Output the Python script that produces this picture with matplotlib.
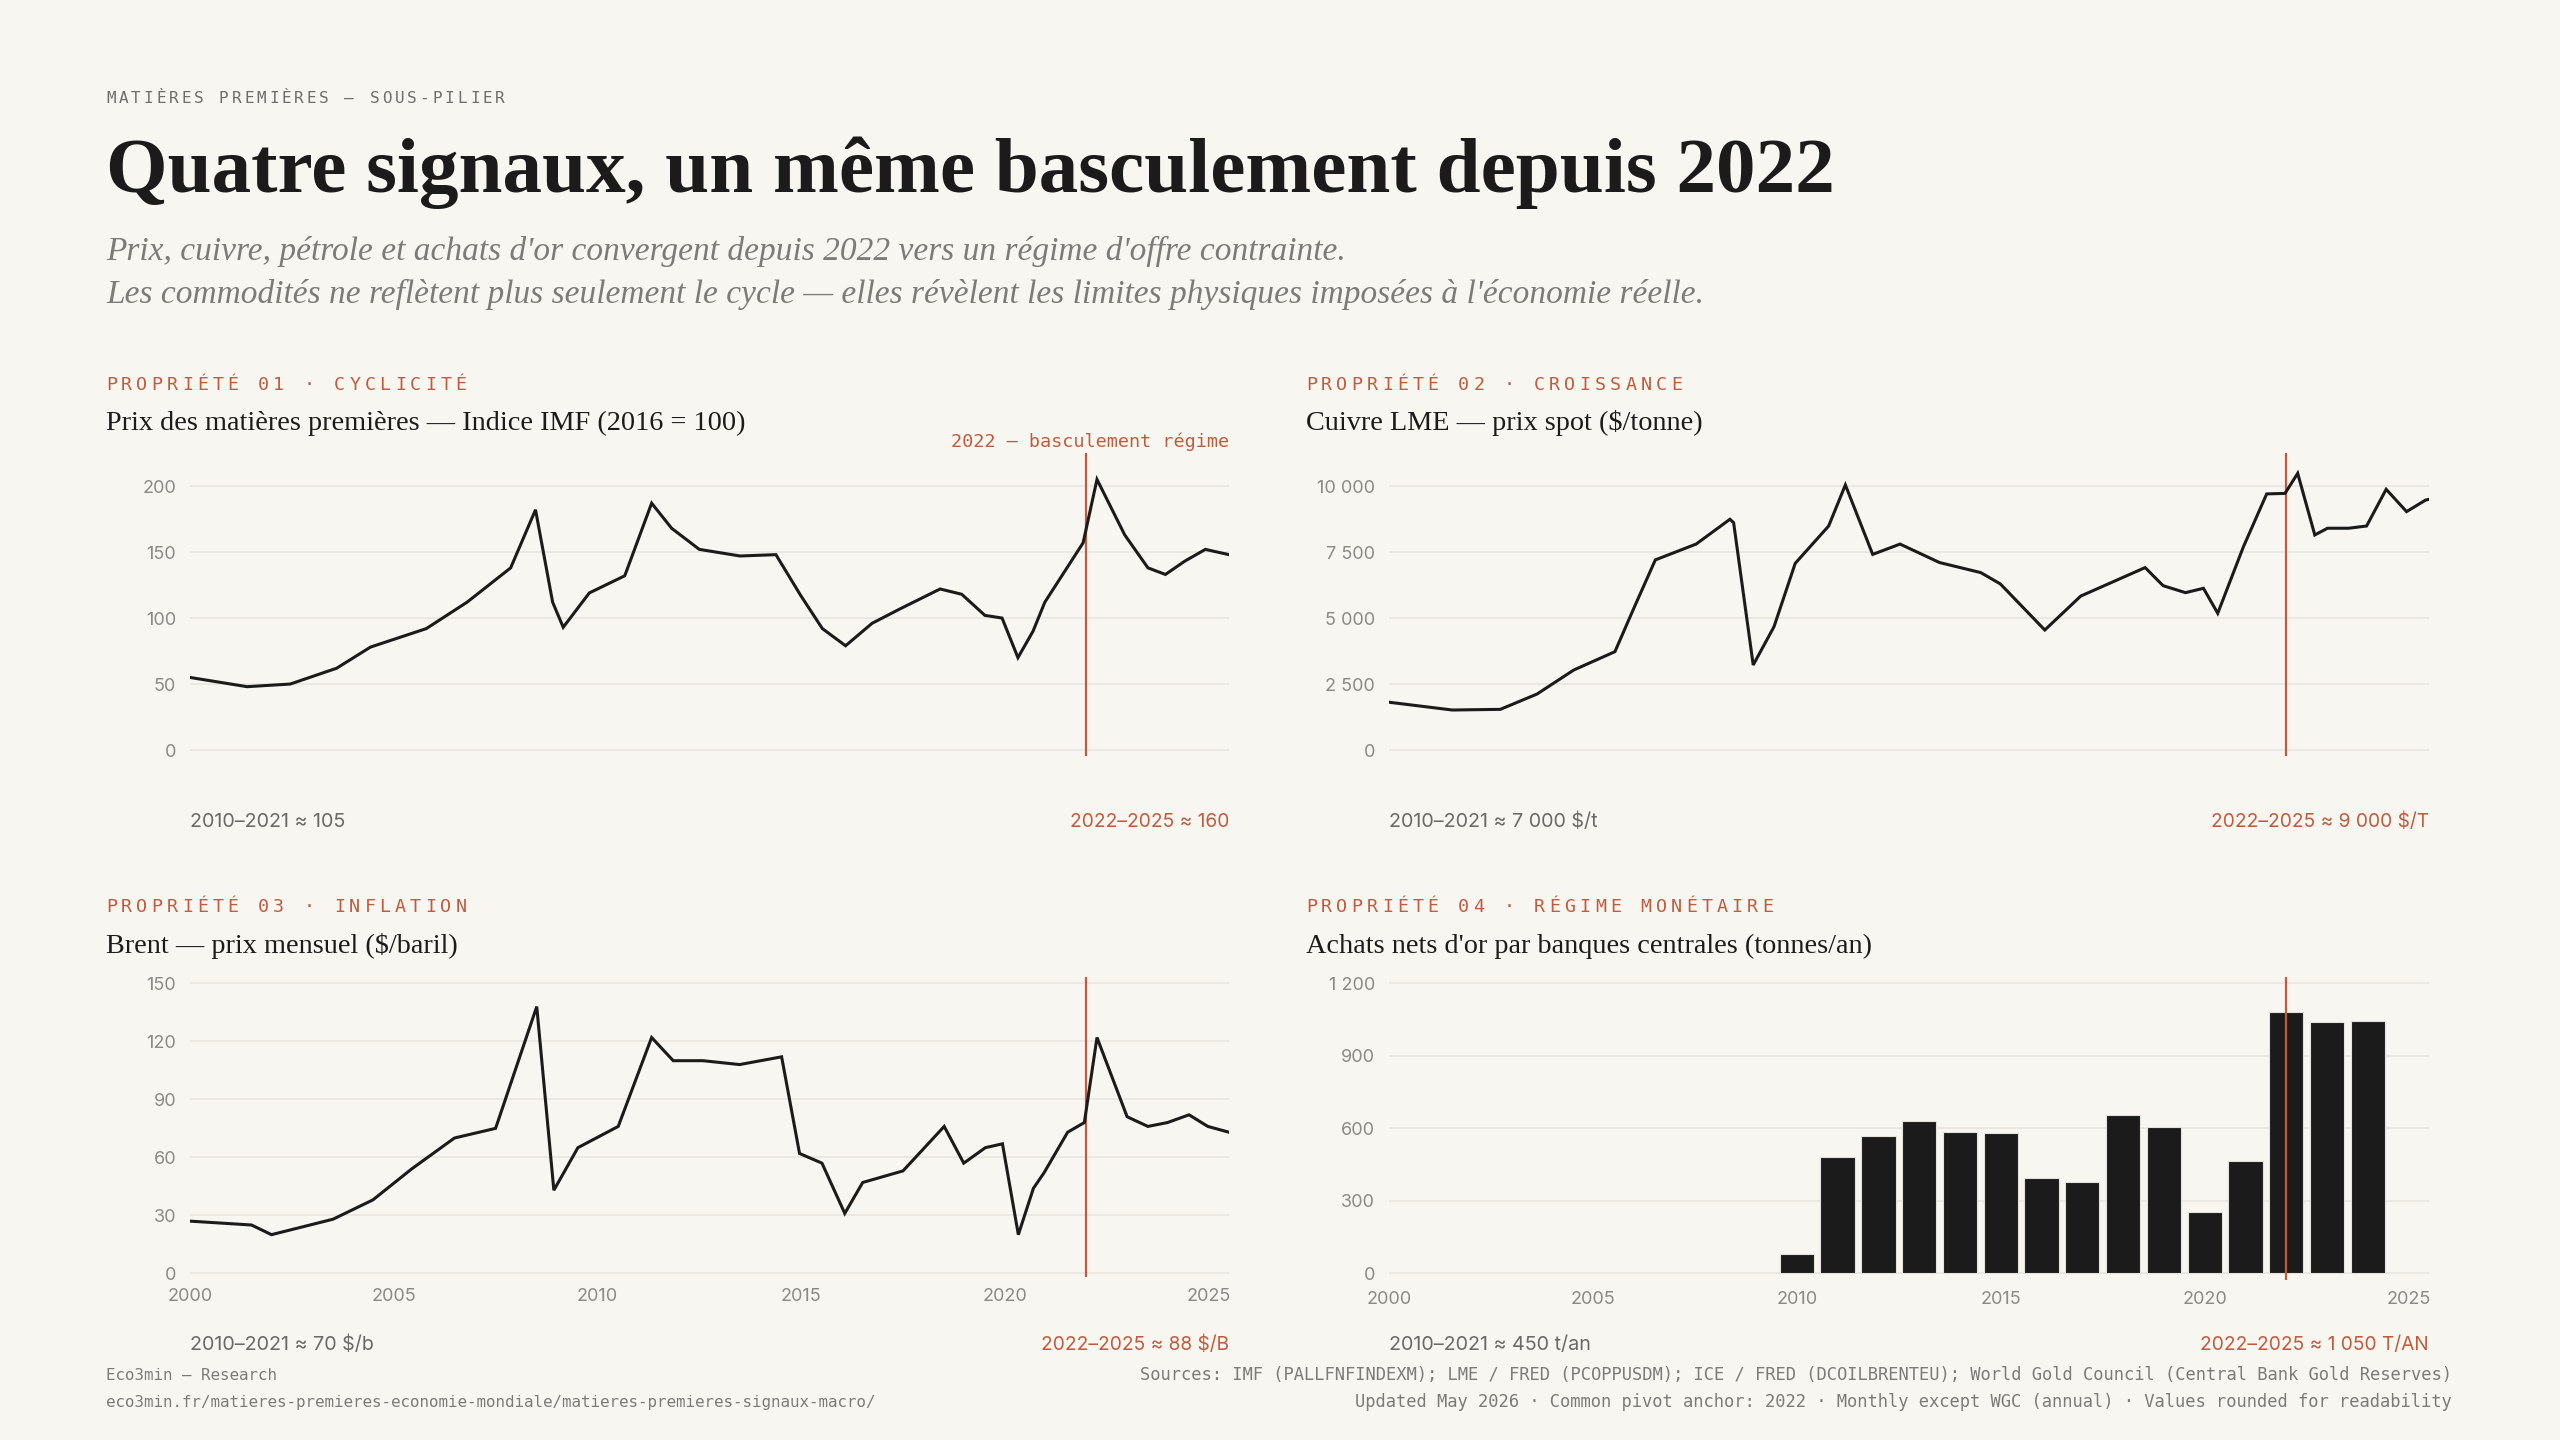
import matplotlib
matplotlib.use("Agg")
import matplotlib.pyplot as plt
from matplotlib.ticker import FixedLocator, FuncFormatter

# ---- data ----
imf_t = [2000.0, 2001.4, 2002.46, 2003.6, 2004.43, 2005.8, 2006.8, 2007.87, 2008.48, 2008.9,
         2009.16, 2009.8, 2010.67, 2011.33, 2011.82, 2012.5, 2013.5, 2014.38, 2014.99, 2015.52,
         2016.09, 2016.74, 2017.43, 2018.41, 2018.94, 2019.51, 2019.93, 2020.32, 2020.69, 2020.98,
         2021.92, 2022.26, 2022.94, 2023.51, 2023.94, 2024.41, 2024.92, 2025.5]
imf_v = [55, 48, 50, 62, 78, 92, 112, 138, 182, 112,
         93, 119, 132, 187, 168, 152, 147, 148, 117, 92,
         79, 96, 107, 122, 118, 102, 100, 70, 90, 112,
         157, 205, 163, 138, 133, 143, 152, 148]

cu_t = [2000.0, 2001.55, 2002.73, 2003.63, 2004.53, 2005.54, 2006.02, 2006.53, 2007.53, 2008.36,
        2008.45, 2008.93, 2009.44, 2009.96, 2010.78, 2011.19, 2011.86, 2012.53, 2013.5, 2014.51,
        2014.99, 2016.08, 2016.96, 2018.54, 2018.98, 2019.53, 2019.97, 2020.32, 2020.95, 2021.52,
        2021.97, 2022.28, 2022.7, 2023.01, 2023.53, 2023.97, 2024.45, 2024.95, 2025.42, 2025.5]
cu_v = [1810, 1515, 1540, 2120, 3030, 3725, 5430, 7200, 7800, 8740,
        8610, 3220, 4670, 7070, 8485, 10040, 7410, 7800, 7100, 6720,
        6290, 4545, 5830, 6910, 6225, 5960, 6125, 5180, 7700, 9700,
        9720, 10480, 8145, 8400, 8400, 8485, 9875, 9030, 9470, 9495]

brent_t = [2000.0, 2001.51, 2002.0, 2003.51, 2004.49, 2005.44, 2006.49, 2007.5, 2008.51, 2008.93,
           2009.52, 2010.51, 2011.33, 2011.86, 2012.59, 2013.49, 2014.52, 2014.96, 2015.51, 2016.07,
           2016.51, 2017.5, 2018.51, 2018.99, 2019.52, 2019.94, 2020.33, 2020.7, 2020.96, 2021.54,
           2021.95, 2022.26, 2023.0, 2023.51, 2023.99, 2024.52, 2024.98, 2025.5]
brent_v = [27, 25, 20, 28, 38, 54, 70, 75, 138, 43,
           65, 76, 122, 110, 110, 108, 112, 62, 57, 31,
           47, 53, 76, 57, 65, 67, 20, 44, 52, 73,
           78, 122, 81, 76, 78, 82, 76, 73]

gold_years = list(range(2010, 2025))
gold_tonnes = [80, 480, 570, 630, 583, 581, 396, 379, 657, 606, 255, 463, 1083, 1039, 1046]

pivot_year = 2022
x_ticks = [2000, 2005, 2010, 2015, 2020, 2025]

imf_ticks = [0, 50, 100, 150, 200]
cu_ticks = [0, 2500, 5000, 7500, 10000]
brent_ticks = [0, 30, 60, 90, 120, 150]
gold_ticks = [0, 300, 600, 900, 1200]

panel_kickers = ["PROPRIÉTÉ 01 · CYCLICITÉ", "PROPRIÉTÉ 02 · CROISSANCE",
                 "PROPRIÉTÉ 03 · INFLATION", "PROPRIÉTÉ 04 · RÉGIME MONÉTAIRE"]
panel_titles = ["Prix des matières premières — Indice IMF (2016 = 100)",
                "Cuivre LME — prix spot ($/tonne)",
                "Brent — prix mensuel ($/baril)",
                "Achats nets d'or par banques centrales (tonnes/an)"]
notes_before = ["2010–2021 ≈ 105", "2010–2021 ≈ 7 000 $/t", "2010–2021 ≈ 70 $/b", "2010–2021 ≈ 450 t/an"]
notes_after = ["2022–2025 ≈ 160", "2022–2025 ≈ 9 000 $/T", "2022–2025 ≈ 88 $/B", "2022–2025 ≈ 1 050 T/AN"]

# ---- style ----
BG = "#F8F6F0"
INK = "#1B1B1B"
ACCENT = "#C25B3D"
GREY = "#7C7B78"
TICK = "#8C8A86"
GRID = "#EAE7E0"
SERIF = "Liberation Serif"
MONO = "DejaVu Sans Mono"
SANS = "Inter"

W, H = 2560, 1440
fig = plt.figure(figsize=(W / 100, H / 100), dpi=100, facecolor=BG)


def fx(x):
    return x / W


def fy(y):
    return 1 - y / H


def spaced(x, y, s, size, pitch, color):
    # monospace text with letter spacing: one glyph per cell
    for i, ch in enumerate(s):
        fig.text(fx(x + i * pitch), fy(y), ch, fontsize=size, color=color,
                 family=MONO, va="baseline", ha="left")


def space_thousands(v, pos=None):
    return f"{int(v):,}".replace(",", " ")


# header
spaced(106, 103, "MATIÈRES PREMIÈRES — SOUS-PILIER", 11.5, 12.55, "#6E6D6A")
fig.text(fx(106), fy(192), "Quatre signaux, un même basculement depuis 2022",
         fontsize=57, fontweight="bold", family=SERIF, color=INK, va="baseline")
fig.text(fx(106), fy(260), "Prix, cuivre, pétrole et achats d'or convergent depuis 2022 vers un régime d'offre contrainte.",
         fontsize=24, style="italic", family=SERIF, color=GREY, va="baseline")
fig.text(fx(106), fy(303), "Les commodités ne reflètent plus seulement le cycle — elles révèlent les limites physiques imposées à l'économie réelle.",
         fontsize=24, style="italic", family=SERIF, color=GREY, va="baseline")

# panel geometry in pixels: (left, right, top, bottom, ylim)
panels = [
    (190, 1229, 453, 756, (-4.5, 225)),
    (1389, 2429, 453, 756, (-227, 11250)),
    (190, 1229, 977, 1277, (-1.9, 153.3)),
    (1389, 2429, 977, 1280, (-27.7, 1226)),
]
label_x = [106, 1306, 106, 1306]
label_y = [390, 390, 912, 912]
title_y = [430, 430, 953, 953]
note_y = [827, 827, 1350, 1350]

axes = []
for i, (l, r, t, b, yl) in enumerate(panels):
    ax = fig.add_axes([fx(l), fy(b), (r - l) / W, (b - t) / H])
    ax.set_facecolor("none")
    ax.set_xlim(2000, 2025.5)
    ax.set_ylim(*yl)
    for s in ax.spines.values():
        s.set_visible(False)
    ax.tick_params(length=0, labelsize=13, labelcolor=TICK, pad=10)
    ax.axvline(pivot_year, color=ACCENT, lw=1.6, zorder=4)
    axes.append(ax)

    spaced(label_x[i], label_y[i], panel_kickers[i], 13.2, 15.2, ACCENT)
    fig.text(fx(label_x[i]), fy(title_y[i]), panel_titles[i], fontsize=20.3,
             family=SERIF, color=INK, va="baseline")
    fig.text(fx(l), fy(note_y[i]), notes_before[i], fontsize=14.2, family=SANS,
             color="#6A6966", va="baseline")
    fig.text(fx(r), fy(note_y[i]), notes_after[i], fontsize=13.8, family=SANS,
             color=ACCENT, va="baseline", ha="right")

ax1, ax2, ax3, ax4 = axes

ax1.plot(imf_t, imf_v, color=INK, lw=2.2, zorder=5, solid_joinstyle="miter")
ax2.plot(cu_t, cu_v, color=INK, lw=2.2, zorder=5, solid_joinstyle="miter")
ax3.plot(brent_t, brent_v, color=INK, lw=2.2, zorder=5, solid_joinstyle="miter")
ax4.bar(gold_years, gold_tonnes, width=0.84, color=INK, edgecolor="#E4E1DA",
        linewidth=0.8, zorder=3)

for ax, ticks in zip(axes, [imf_ticks, cu_ticks, brent_ticks, gold_ticks]):
    ax.yaxis.set_major_locator(FixedLocator(ticks))
    ax.yaxis.set_major_formatter(FuncFormatter(space_thousands))
    ax.xaxis.set_major_locator(FixedLocator(x_ticks))
    ax.grid(axis="y", color=GRID, lw=1.3, zorder=0)
    ax.set_axisbelow(True)
    for lab in ax.get_yticklabels() + ax.get_xticklabels():
        lab.set_family(SANS)

for ax in (ax1, ax2):
    ax.tick_params(axis="x", labelbottom=False)
for ax in (ax3, ax4):
    ax.tick_params(axis="x", pad=8)

fig.text(fx(1229), fy(447), "2022 — basculement régime", fontsize=13.3, family=MONO,
         color=ACCENT, ha="right", va="baseline")

# footer
fig.text(fx(106), fy(1380), "Eco3min — Research", fontsize=11.4, family=MONO, color=GREY, va="baseline")
fig.text(fx(106), fy(1407), "eco3min.fr/matieres-premieres-economie-mondiale/matieres-premieres-signaux-macro/",
         fontsize=11.4, family=MONO, color=GREY, va="baseline")
fig.text(fx(2452), fy(1380),
         "Sources: IMF (PALLFNFINDEXM); LME / FRED (PCOPPUSDM); ICE / FRED (DCOILBRENTEU); World Gold Council (Central Bank Gold Reserves)",
         fontsize=12.3, family=MONO, color=GREY, va="baseline", ha="right")
fig.text(fx(2452), fy(1407),
         "Updated May 2026 · Common pivot anchor: 2022 · Monthly except WGC (annual) · Values rounded for readability",
         fontsize=12.3, family=MONO, color=GREY, va="baseline", ha="right")

fig.savefig("out.png", dpi=100, facecolor=BG)
